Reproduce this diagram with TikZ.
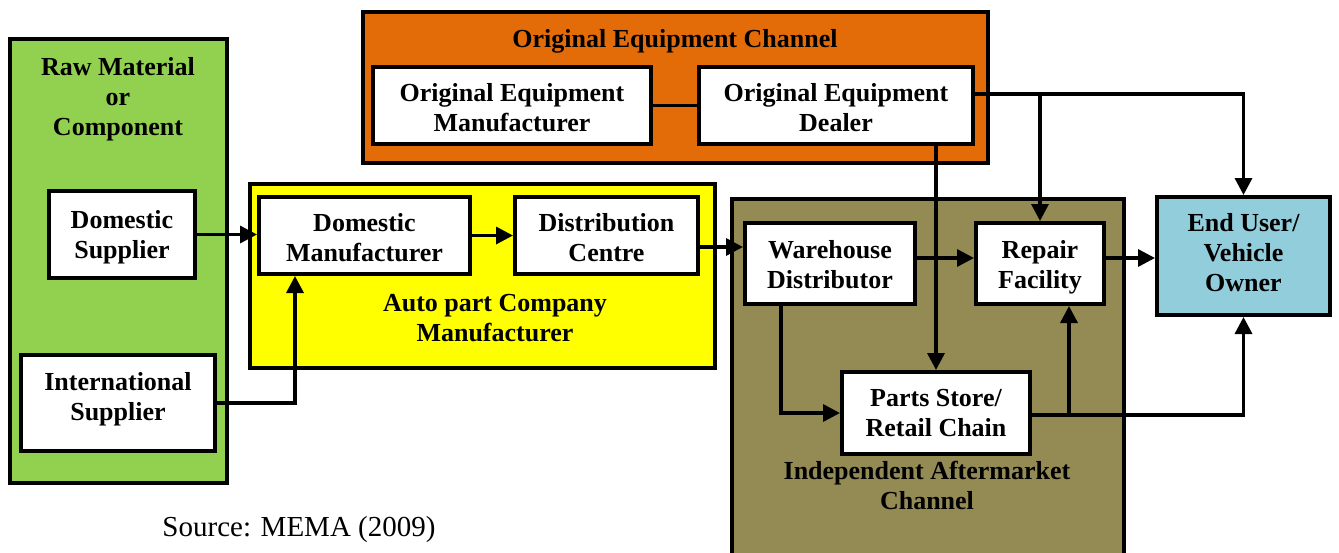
\documentclass[tikz,border=0pt]{standalone}
\usepackage{fontspec}
\setmainfont{Liberation Serif}
\usetikzlibrary{arrows.meta}
\definecolor{cgreen}{RGB}{146,208,80}
\definecolor{cyellow}{RGB}{255,255,0}
\definecolor{corange}{RGB}{227,108,9}
\definecolor{colive}{RGB}{148,138,84}
\definecolor{cblue}{RGB}{146,205,220}
\newcommand\boxtxt[2][-3.5pt]{\raisebox{#1}[\height][\depth]{\begin{tabular}{@{}c@{}}#2\end{tabular}}}
\begin{document}
\begin{tikzpicture}[x=1pt,y=-1pt,
  box/.style={draw, line width=4pt, fill=white, font=\bfseries\fontsize{26}{30}\selectfont, align=center, inner sep=0pt},
  cont/.style={draw, line width=4.5pt},
  lbl/.style={font=\bfseries\fontsize{26}{30}\selectfont, align=center, inner sep=0pt},
  conn/.style={line width=3.4pt, -{Triangle[length=17pt,width=17pt]}},
  plain/.style={line width=3.4pt}]
\clip (0,0) rectangle (1339,552);
\fill[white] (0,0) rectangle (1339,552);
% containers
\draw[cont, fill=cgreen] (10,39) rectangle (227,483);
\draw[cont, fill=cyellow] (250,184) rectangle (715,368);
\draw[cont, fill=corange] (363,12) rectangle (988,163);
\draw[cont, fill=colive] (732,199) rectangle (1124,570);
% container labels
\node[lbl] (lraw) at (118,99) {Raw Material\\or\\Component};
\node[lbl] (lauto) at (495,318) {Auto part Company\\Manufacturer};
\node[lbl] (loec) at (675,41) {Original Equipment Channel};
\node[lbl] (liac) at (927,485) {Independent Aftermarket\\Channel};
\node[font=\fontsize{29}{33}\selectfont, inner sep=0pt] (src) at (299,530) {Source: MEMA (2009)};
% boxes
\node[box, minimum width=146, minimum height=87] (ds) at (122,234.5) {\boxtxt[-2.5pt]{Domestic\\Supplier}};
\node[box, minimum width=194, minimum height=96] (is) at (118,403) {\boxtxt[4pt]{International\\Supplier}};
\node[box, minimum width=211, minimum height=77] (dm) at (364.5,235.5) {\boxtxt[-4.5pt]{Domestic\\Manufacturer}};
\node[box, minimum width=183, minimum height=77] (dc) at (606.5,235.5) {\boxtxt[-4.5pt]{Distribution\\Centre}};
\node[box, minimum width=278, minimum height=77] (oem) at (512,105.5) {\boxtxt[-5pt]{Original Equipment\\Manufacturer}};
\node[box, minimum width=274, minimum height=77] (oed) at (836,105.5) {\boxtxt[-5pt]{Original Equipment\\Dealer}};
\node[box, minimum width=170, minimum height=81] (wd) at (830,263.5) {\boxtxt{Warehouse\\Distributor}};
\node[box, minimum width=128, minimum height=81] (rf) at (1040,263.5) {\boxtxt{Repair\\Facility}};
\node[box, minimum width=188, minimum height=82] (ps) at (936,413) {\boxtxt[-2.5pt]{Parts Store/\\Retail Chain}};
\node[box, fill=cblue, minimum width=173, minimum height=118] (eu) at (1243.5,256) {\boxtxt[1pt]{End User/\\Vehicle\\Owner}};
% helper coordinates
\coordinate (top) at ([yshift=11.5pt]oed.east);
\coordinate (psout) at ([yshift=-2pt]ps.east);
\coordinate (rfin) at ([xshift=29pt]rf.south);
\coordinate (wdout) at ([yshift=5.5pt]wd.east);
\coordinate (rfout) at ([yshift=5.5pt]rf.east);
\coordinate (dcout) at ([yshift=-11.5pt]dc.east);
% connectors
\draw[conn] (ds.east) -- (ds.east -| dm.west);
\draw[conn] (is.east) -| ([xshift=-69.5pt]dm.south);
\draw[conn] (dm.east) -- (dc.west);
\draw[conn] (dcout) -- (dcout -| wd.west);
\draw[plain] (oem.east) -- (oed.west);
\draw[conn] (top) -| (eu.north);
\draw[conn] (top -| rf.north) -- (rf.north);
\draw[conn] (oed.south -| ps.north) -- (ps.north);
\draw[conn] (wdout) -- (wdout -| rf.west);
\draw[conn] ([xshift=-49pt]wd.south) |- (ps.west);
\draw[conn] (psout) -| (eu.south);
\draw[conn] (rfin |- psout) -- (rfin);
\draw[conn] (rfout) -- (rfout -| eu.west);
\end{tikzpicture}
\end{document}
